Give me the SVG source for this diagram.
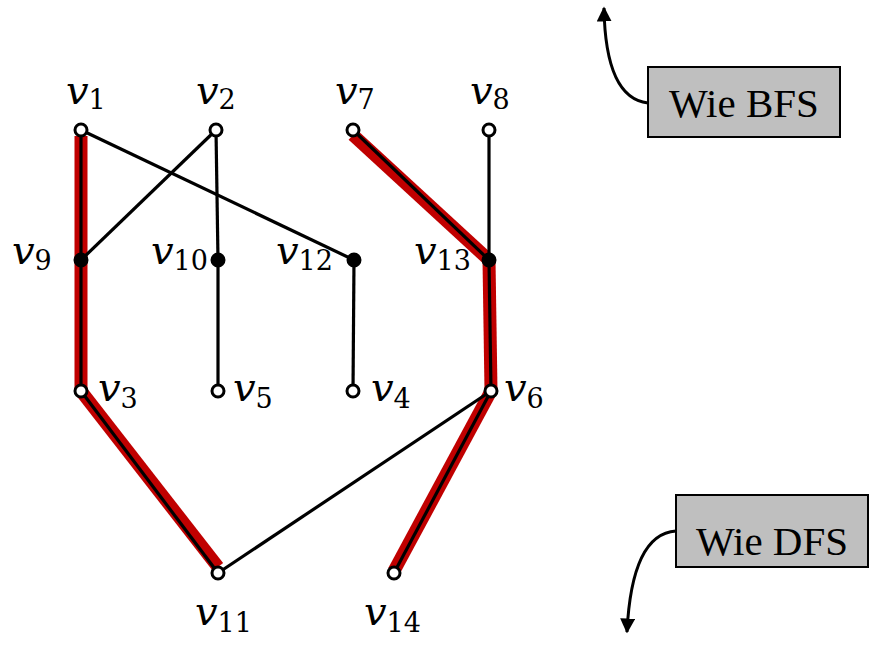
<svg xmlns="http://www.w3.org/2000/svg" width="870" height="646" viewBox="0 0 870 646">
<defs>
<marker id="ah" viewBox="0 0 10 10" refX="9" refY="5" markerWidth="5" markerHeight="5" orient="auto" markerUnits="strokeWidth">
<path d="M0,0 L10,5 L0,10 z" fill="#000"/>
</marker>
</defs>
<style>
.hl{stroke:#c00000;stroke-width:13;fill:none;stroke-linecap:butt}
.e{stroke:#000;stroke-width:3.2;fill:none}
.o{fill:#fff;stroke:#000;stroke-width:3}
.f{fill:#000;stroke:#000;stroke-width:3}
.lab{font-family:"DejaVu Serif","Liberation Serif",serif;font-style:italic;font-size:40px;fill:#000}
.sub{font-family:"DejaVu Serif","Liberation Serif",serif;font-size:27px;font-style:normal}
.box{fill:#bfbfbf;stroke:#000;stroke-width:2}
.bt{font-family:"Liberation Serif","DejaVu Serif",serif;font-size:41px;fill:#000;text-anchor:middle}
.arr{stroke:#000;stroke-width:3;fill:none}
</style>
<g id="connectors">
<g id="highlight">
<line class="hl" x1="81" y1="136" x2="81" y2="391"/>
<line class="hl" x1="81" y1="391" x2="218" y2="567"/>
<line class="hl" x1="353" y1="135" x2="489" y2="260"/>
<line class="hl" x1="489" y1="260" x2="491" y2="391"/>
<line class="hl" x1="491" y1="391" x2="394" y2="571"/>
</g>
<line class="e" x1="81" y1="130" x2="81" y2="260"/>
<line class="e" x1="81" y1="260" x2="81" y2="391"/>
<line class="e" x1="81" y1="391" x2="218" y2="573"/>
<line class="e" x1="81" y1="130" x2="354" y2="260"/>
<line class="e" x1="216" y1="130" x2="81" y2="260"/>
<line class="e" x1="216" y1="130" x2="218" y2="260"/>
<line class="e" x1="218" y1="260" x2="218" y2="391"/>
<line class="e" x1="354" y1="260" x2="353" y2="391"/>
<line class="e" x1="353" y1="130" x2="489" y2="260"/>
<line class="e" x1="489" y1="130" x2="489" y2="260"/>
<line class="e" x1="489" y1="260" x2="491" y2="391"/>
<line class="e" x1="491" y1="391" x2="218" y2="573"/>
<line class="e" x1="491" y1="391" x2="394" y2="573"/>
<path class="arr" d="M648,103 C622,100 605,72 604,8" marker-end="url(#ah)"/>
<path class="arr" d="M676,531 C645,533 630,570 627,632" marker-end="url(#ah)"/>
</g>
<g id="v1"><circle class="o" cx="81" cy="130" r="6"/><text class="lab" x="66" y="104">v<tspan class="sub" dy="5">1</tspan></text></g>
<g id="v2"><circle class="o" cx="216" cy="130" r="6"/><text class="lab" x="196" y="104">v<tspan class="sub" dy="5">2</tspan></text></g>
<g id="v7"><circle class="o" cx="353" cy="130" r="6"/><text class="lab" x="335" y="104">v<tspan class="sub" dy="5">7</tspan></text></g>
<g id="v8"><circle class="o" cx="489" cy="130" r="6"/><text class="lab" x="470" y="104">v<tspan class="sub" dy="5">8</tspan></text></g>
<g id="v9"><circle class="f" cx="81" cy="260" r="6"/><text class="lab" x="12" y="264">v<tspan class="sub" dy="6">9</tspan></text></g>
<g id="v10"><circle class="f" cx="218" cy="260" r="6"/><text class="lab" x="151" y="264">v<tspan class="sub" dy="6">10</tspan></text></g>
<g id="v12"><circle class="f" cx="354" cy="260" r="6"/><text class="lab" x="276" y="264">v<tspan class="sub" dy="6">12</tspan></text></g>
<g id="v13"><circle class="f" cx="489" cy="260" r="6"/><text class="lab" x="414" y="264">v<tspan class="sub" dy="6">13</tspan></text></g>
<g id="v3"><circle class="o" cx="81" cy="391" r="6"/><text class="lab" x="98" y="401">v<tspan class="sub" dy="7">3</tspan></text></g>
<g id="v5"><circle class="o" cx="218" cy="391" r="6"/><text class="lab" x="233" y="401">v<tspan class="sub" dy="7">5</tspan></text></g>
<g id="v4"><circle class="o" cx="353" cy="391" r="6"/><text class="lab" x="371" y="401">v<tspan class="sub" dy="7">4</tspan></text></g>
<g id="v6"><circle class="o" cx="491" cy="391" r="6"/><text class="lab" x="504" y="401">v<tspan class="sub" dy="7">6</tspan></text></g>
<g id="v11"><circle class="o" cx="218" cy="573" r="6"/><text class="lab" x="195" y="625">v<tspan class="sub" dy="7">11</tspan></text></g>
<g id="v14"><circle class="o" cx="394" cy="573" r="6"/><text class="lab" x="364" y="625">v<tspan class="sub" dy="7">14</tspan></text></g>
<g id="bfs"><rect class="box" x="648" y="67" width="192" height="70"/><text class="bt" x="744" y="117">Wie BFS</text></g>
<g id="dfs"><rect class="box" x="676" y="495" width="192" height="72"/><text class="bt" x="772" y="555">Wie DFS</text></g>
</svg>
